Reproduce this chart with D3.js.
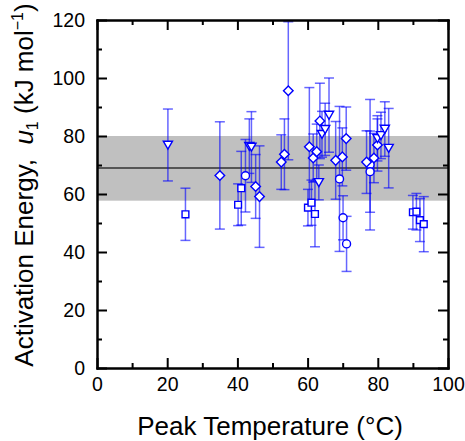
<!DOCTYPE html>
<html>
<head>
<meta charset="utf-8">
<script src="https://cdn.jsdelivr.net/npm/d3@7"></script>
<style>
  body { margin: 0; background: #fff; }
  svg text { font-family: "Liberation Sans", Arial, sans-serif; fill: #000; }
</style>
</head>
<body>
<div id="chart"></div>
<script>
// peak temperature (C), activation energy u1 (kJ/mol), error
var squareTemp = [25.2, 40.2, 41.1, 60.1, 61.1, 62.1, 90.0, 91.0, 92.0, 93.1];
var squareU    = [53.0, 56.3, 62.0, 55.3, 57.0, 53.1, 53.7, 53.9, 51.0, 49.6];
var squareErr  = [9.0, 7.2, 12.7, 6.3, 7.8, 11.3, 5.8, 6.3, 7.4, 9.5];

var circleTemp = [42.3, 69.1, 70.1, 71.1, 77.8, 77.8];
var circleU    = [66.3, 65.2, 51.8, 42.8, 70.1, 67.7];
var circleErr  = [12.5, 25.0, 7.6, 9.5, 22.5, 14.0];

var diamondTemp = [35.0, 45.2, 46.3, 52.5, 53.4, 54.5, 60.5, 61.6, 62.6, 63.5, 68.0, 69.9, 71.0, 76.8, 78.9, 79.9];
var diamondU    = [66.4, 62.6, 59.1, 71.0, 73.7, 95.6, 76.3, 72.4, 74.6, 85.2, 71.6, 72.8, 79.1, 71.0, 72.4, 76.9];
var diamondErr  = [18.5, 11.0, 17.5, 9.4, 12.2, 23.8, 20.4, 8.3, 9.5, 13.0, 13.4, 10.0, 10.9, 10.8, 8.5, 9.0];

var triangleTemp = [20.2, 43.4, 44.0, 63.2, 64.1, 65.0, 66.1, 79.9, 80.9, 82.0, 83.1];
var triangleU    = [76.9, 76.5, 76.2, 64.0, 80.6, 82.3, 87.2, 79.2, 80.2, 82.4, 75.8];
var triangleErr  = [12.4, 9.4, 12.2, 6.0, 7.9, 9.0, 12.8, 7.8, 8.0, 9.4, 13.7];

var meanU = 69.0;
var bandLow = 57.7;
var bandHigh = 80.0;

var xTicks = [0, 20, 40, 60, 80, 100];
var yTicks = [0, 20, 40, 60, 80, 100, 120];

var width = 465, height = 441;
var padLeft = 97, padRight = 448, padTop = 20, padBottom = 368;

var svg = d3.select("#chart").append("svg")
    .attr("width", width)
    .attr("height", height);

var x = d3.scaleLinear().domain([0, 100]).range([padLeft, padRight]);
var y = d3.scaleLinear().domain([0, 120]).range([padBottom, padTop]);

// shaded band and mean line
svg.append("rect")
    .attr("x", x(0))
    .attr("y", y(bandHigh))
    .attr("width", x(100) - x(0))
    .attr("height", y(bandLow) - y(bandHigh))
    .style("fill", "#c0c0c0");

svg.append("line")
    .attr("x1", x(0)).attr("x2", x(100))
    .attr("y1", y(meanU)).attr("y2", y(meanU))
    .style("stroke", "#555")
    .style("stroke-width", 2);

function makeSeries(t, u, e, shape) {
    return t.map(function(d, i) {
        return { t: d, u: u[i], e: e[i], shape: shape };
    });
}

var all = []
    .concat(makeSeries(squareTemp, squareU, squareErr, "square"))
    .concat(makeSeries(circleTemp, circleU, circleErr, "circle"))
    .concat(makeSeries(diamondTemp, diamondU, diamondErr, "diamond"))
    .concat(makeSeries(triangleTemp, triangleU, triangleErr, "triangle"));

// error bars
var bars = svg.append("g").attr("class", "errorbars")
    .style("stroke", "rgba(0,0,255,0.6)")
    .style("stroke-width", 1.5);

bars.selectAll(".vbar")
    .data(all).enter().append("line")
    .attr("x1", function(d) { return x(d.t); })
    .attr("x2", function(d) { return x(d.t); })
    .attr("y1", function(d) { return y(d.u + d.e); })
    .attr("y2", function(d) { return y(d.u - d.e); });

bars.selectAll(".capTop")
    .data(all).enter().append("line")
    .attr("x1", function(d) { return x(d.t) - 5; })
    .attr("x2", function(d) { return x(d.t) + 5; })
    .attr("y1", function(d) { return y(d.u + d.e); })
    .attr("y2", function(d) { return y(d.u + d.e); });

bars.selectAll(".capBot")
    .data(all).enter().append("line")
    .attr("x1", function(d) { return x(d.t) - 5; })
    .attr("x2", function(d) { return x(d.t) + 5; })
    .attr("y1", function(d) { return y(d.u - d.e); })
    .attr("y2", function(d) { return y(d.u - d.e); });

// markers
var shapes = {
    square: d3.symbol().type(d3.symbolSquare).size(46)(),
    circle: d3.symbol().type(d3.symbolCircle).size(50)(),
    diamond: d3.symbol().type(d3.symbolSquare).size(46)(),
    triangle: "M-4.6,-3.8L4.6,-3.8L0,4.2Z"
};

svg.append("g").attr("class", "markers")
    .selectAll("path")
    .data(all).enter().append("path")
    .attr("d", function(d) { return shapes[d.shape]; })
    .attr("transform", function(d) {
        var tr = "translate(" + x(d.t) + "," + y(d.u) + ")";
        if (d.shape == "diamond") tr += " rotate(45)";
        return tr;
    })
    .style("fill", "#fff")
    .style("stroke", "#0000ff")
    .style("stroke-width", 1.4);

// axes, ticks pointing inward
var minorX = d3.range(10, 100, 20);
var minorY = d3.range(10, 120, 20);

function styleAxis(g, labels) {
    g.select(".domain").style("stroke-width", 2);
    g.selectAll(".tick line").style("stroke-width", 2);
    g.selectAll("text").style("font-size", "19.5px");
    if (!labels) g.selectAll("text").remove();
}

svg.append("g")
    .attr("transform", "translate(0," + padBottom + ")")
    .call(d3.axisBottom(x).tickValues(xTicks).tickSize(-10).tickPadding(9).tickSizeOuter(0))
    .call(styleAxis, true);
svg.append("g")
    .attr("transform", "translate(0," + padBottom + ")")
    .call(d3.axisBottom(x).tickValues(minorX).tickSize(-5).tickSizeOuter(0))
    .call(styleAxis, false);

svg.append("g")
    .attr("transform", "translate(0," + padTop + ")")
    .call(d3.axisTop(x).tickValues(xTicks).tickSize(-10).tickSizeOuter(0))
    .call(styleAxis, false);
svg.append("g")
    .attr("transform", "translate(0," + padTop + ")")
    .call(d3.axisTop(x).tickValues(minorX).tickSize(-5).tickSizeOuter(0))
    .call(styleAxis, false);

svg.append("g")
    .attr("transform", "translate(" + padLeft + ",0)")
    .call(d3.axisLeft(y).tickValues(yTicks).tickSize(-10).tickPadding(12).tickSizeOuter(0))
    .call(styleAxis, true);
svg.append("g")
    .attr("transform", "translate(" + padLeft + ",0)")
    .call(d3.axisLeft(y).tickValues(minorY).tickSize(-5).tickSizeOuter(0))
    .call(styleAxis, false);

svg.append("g")
    .attr("transform", "translate(" + padRight + ",0)")
    .call(d3.axisRight(y).tickValues(yTicks).tickSize(-10).tickSizeOuter(0))
    .call(styleAxis, false);
svg.append("g")
    .attr("transform", "translate(" + padRight + ",0)")
    .call(d3.axisRight(y).tickValues(minorY).tickSize(-5).tickSizeOuter(0))
    .call(styleAxis, false);

svg.selectAll(".domain").attr("stroke-linecap", "square");

// axis titles
svg.append("text")
    .attr("x", 270)
    .attr("y", 435)
    .attr("text-anchor", "middle")
    .style("font-size", "26px")
    .text("Peak Temperature (°C)");

var yt = svg.append("text")
    .attr("transform", "translate(33,185) rotate(-90)")
    .attr("text-anchor", "middle")
    .style("font-size", "26px");
yt.append("tspan").text("Activation Energy,\u00a0\u00a0");
yt.append("tspan").style("font-style", "italic").text("u");
yt.append("tspan").attr("dy", 5).style("font-size", "16px").text("1");
yt.append("tspan").attr("dy", -5).text(" (kJ mol");
yt.append("tspan").attr("dy", -10).style("font-size", "16px").text("\u22121");
yt.append("tspan").attr("dy", 10).text(")");
</script>
</body>
</html>
